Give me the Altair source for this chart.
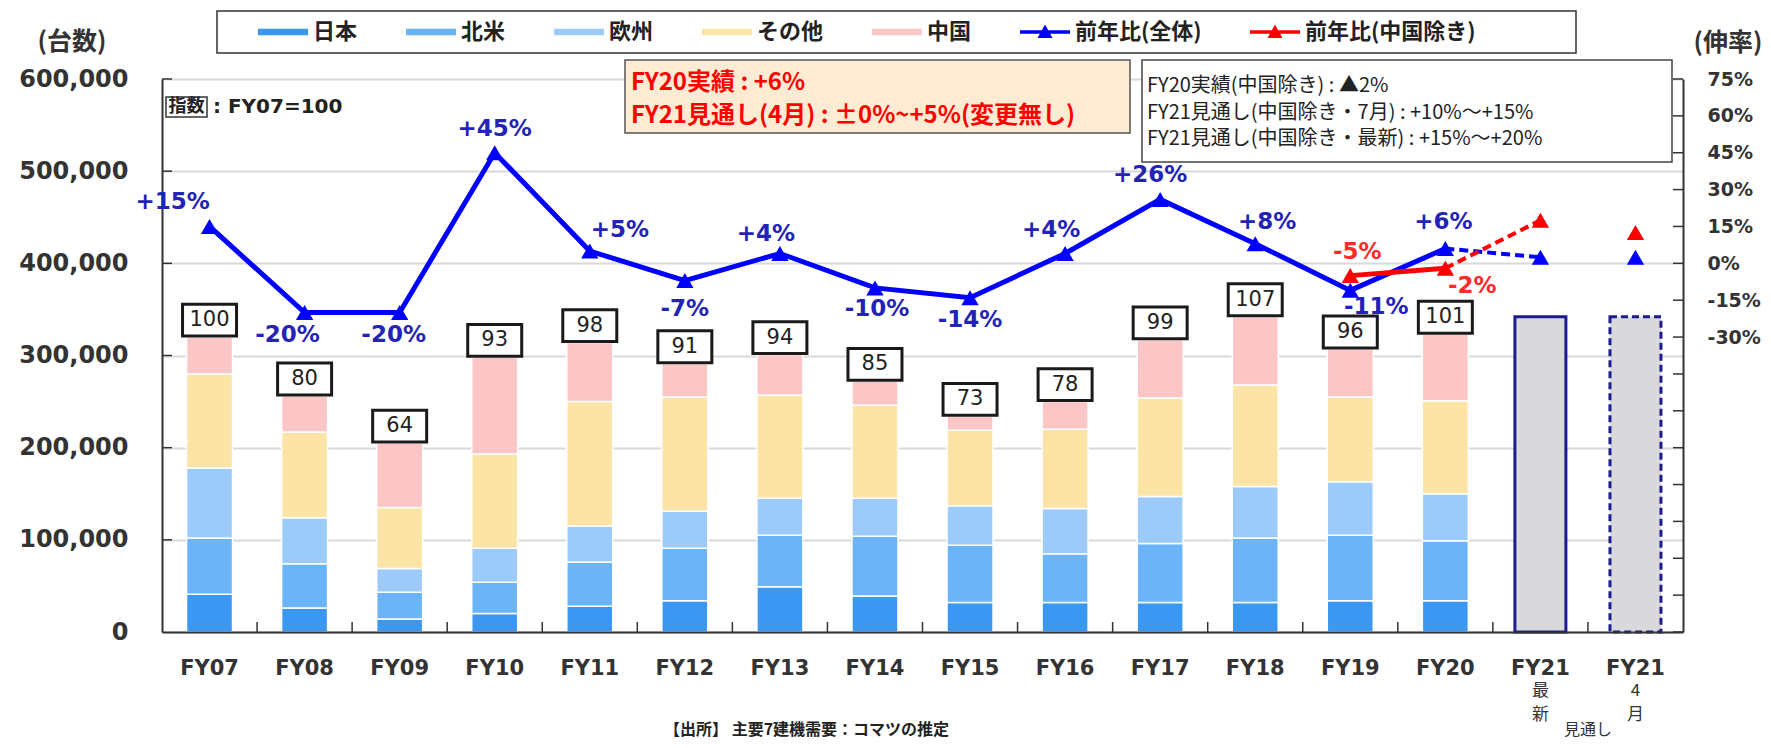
import altair as alt
import pandas as pd

# ---------------- data ----------------
years = ["FY07", "FY08", "FY09", "FY10", "FY11", "FY12", "FY13", "FY14", "FY15",
         "FY16", "FY17", "FY18", "FY19", "FY20", "FY21最新", "FY21 4月"]
actual_years = years[:14]
forecast_years = years[14:]

regions = ["日本", "北米", "欧州", "その他", "中国"]
japan = [41000, 26000, 14000, 20000, 28000, 34000, 49000, 39000, 32000, 32000, 32000, 32000, 34000, 34000]
north_america = [61000, 48000, 29000, 34000, 48000, 57000, 56000, 65000, 62000, 53000, 64000, 70000, 71000, 65000]
europe = [76000, 50000, 26000, 37000, 39000, 40000, 40000, 41000, 43000, 49000, 51000, 56000, 58000, 51000]
others = [102000, 93000, 66000, 102000, 135000, 124000, 112000, 101000, 82000, 86000, 107000, 110000, 92000, 101000]
china = [40000, 39000, 70000, 105000, 64000, 36000, 44000, 26000, 15000, 30000, 63000, 74000, 52000, 72000]
index_fy07 = [100, 80, 64, 93, 98, 91, 94, 85, 73, 78, 99, 107, 96, 101]
forecast_units = [342000, 342000]

yoy_total = [15, -20, -20, 45, 5, -7, 4, -10, -14, 4, 26, 8, -11, 6]
yoy_total_forecast = [2.5, 2.5]
exchina_years = ["FY19", "FY20"]
yoy_ex_china = [-5, -2]
yoy_ex_china_forecast = [17.5, 12.5]

series_names = ["日本", "北米", "欧州", "その他", "中国", "前年比(全体)", "前年比(中国除き)"]
left_ticks = [100000, 200000, 300000, 400000, 500000, 600000]
right_ticks = list(range(-150, 76, 15))
right_labels = [-30, -15, 0, 15, 30, 45, 60, 75]

# ---------------- styles / layout ----------------
W, H = 1521, 553
region_colors = ["#3A97F2", "#6CB4F8", "#9DCBF9", "#FCE4A6", "#FCC6C7"]
BLUE = "#0000FF"
RED = "#FF0000"
BLUE_TXT = "#2323B8"
RED_TXT = "#FF2A2A"
NUM_FONT = "DejaVu Sans"
JP_FONT = "Noto Sans CJK JP"

label_offsets = {
    ("total", "FY07"): (-37, -24), ("total", "FY08"): (-17, 23), ("total", "FY09"): (-6, 23),
    ("total", "FY10"): (0, -24), ("total", "FY11"): (30, -21), ("total", "FY12"): (0, 28),
    ("total", "FY13"): (-14, -20), ("total", "FY14"): (2, 21), ("total", "FY15"): (0, 22),
    ("total", "FY16"): (-14, -24), ("total", "FY17"): (-10, -24), ("total", "FY18"): (12, -22),
    ("total", "FY19"): (26, 17), ("total", "FY20"): (-2, -27),
    ("exchina", "FY19"): (7, -24), ("exchina", "FY20"): (27, 18),
}

swatch = "M-1,-0.13L1,-0.13L1,0.13L-1,0.13Z"
line_tri = "M-1,-0.07L1,-0.07L1,0.07L-1,0.07Z M-0.3,0.24L0,-0.3L0.3,0.24Z"
box_shape = "M-1,-0.59L1,-0.59L1,0.59L-1,0.59Z"

# ---------------- frames ----------------
rows = []
for i, yr in enumerate(actual_years):
    for k, (name, vals) in enumerate(zip(regions, [japan, north_america, europe, others, china])):
        rows.append({"year": yr, "region": name, "units": vals[i], "order": k})
bar_df = pd.DataFrame(rows)

tot_df = pd.DataFrame({
    "year": actual_years,
    "total": [sum(v) for v in zip(japan, north_america, europe, others, china)],
    "idx": [str(v) for v in index_fy07],
})
fc_df = pd.DataFrame({"year": forecast_years, "units": forecast_units})

total_line = pd.DataFrame({"year": actual_years, "pct": yoy_total})
total_fc_line = pd.DataFrame({"year": [actual_years[-1], forecast_years[0]],
                              "pct": [yoy_total[-1], yoy_total_forecast[0]]})
total_pts = pd.DataFrame({"year": actual_years + forecast_years, "pct": yoy_total + yoy_total_forecast})
ex_line = pd.DataFrame({"year": exchina_years, "pct": yoy_ex_china})
ex_fc_line = pd.DataFrame({"year": [exchina_years[-1], forecast_years[0]],
                           "pct": [yoy_ex_china[-1], yoy_ex_china_forecast[0]]})
ex_pts = pd.DataFrame({"year": exchina_years + forecast_years, "pct": yoy_ex_china + yoy_ex_china_forecast})

lab_rows = [{"series": "total", "year": y, "pct": v, "label": f"{v:+d}%"} for y, v in zip(actual_years, yoy_total)]
lab_rows += [{"series": "exchina", "year": y, "pct": v, "label": f"{v:+d}%"} for y, v in zip(exchina_years, yoy_ex_china)]
lab_df = pd.DataFrame(lab_rows)

legend_df = pd.DataFrame({"series": series_names, "year": [years[0]] * 7, "pct": [None] * 7})

# ---------------- scales ----------------
x_scale = alt.Scale(domain=years, paddingInner=0, paddingOuter=0)
y_left = alt.Scale(domain=[0, 600000], nice=False, zero=False)
y_right = alt.Scale(domain=[-150, 75], nice=False, zero=False)

x_axis = alt.Axis(labelExpr="slice(datum.label, 0, 4)", labelFont=NUM_FONT, labelFontWeight="bold",
                  labelFontSize=21, labelColor="#333", labelPadding=36, labelBaseline="middle",
                  labelAngle=0, ticks=False, tickSize=0, domainColor="#333", domainWidth=2,
                  grid=False, zindex=1, title=None)
left_axis = alt.Axis(values=[0] + left_ticks, format=",.0f", labelFont=NUM_FONT, labelFontWeight="bold",
                     labelFontSize=24, labelColor="#333", labelPadding=34, ticks=False, tickSize=0,
                     domainColor="#333", domainWidth=2, grid=True, gridColor="#D9D9D9", gridWidth=2,
                     title=None)
right_axis = alt.Axis(orient="right", values=right_labels, labelExpr="datum.value + '%'",
                      labelFont=NUM_FONT, labelFontWeight="bold", labelFontSize=19, labelColor="#333",
                      labelPadding=24, ticks=False, tickSize=0, domainColor="#333", domainWidth=2,
                      grid=False, title=None)

X = lambda: alt.X("year:N", scale=x_scale, title=None)

# ---------------- left (units) layers ----------------
bars = alt.Chart(bar_df).mark_bar(size=46, stroke="white", strokeWidth=1.5).encode(
    x=alt.X("year:N", scale=x_scale, axis=x_axis, title=None),
    y=alt.Y("units:Q", stack="zero", scale=y_left, axis=left_axis, title=None),
    fill=alt.Fill("region:N", scale=alt.Scale(domain=regions, range=region_colors), legend=None),
    order=alt.Order("order:Q"),
)
fc_solid = alt.Chart(fc_df.iloc[[0]]).mark_bar(size=51, fill="#D9D9DC", stroke="#1C1C8C",
                                               strokeWidth=3).encode(
    x=X(), y=alt.Y("units:Q", scale=y_left, title=None))
fc_dash = alt.Chart(fc_df.iloc[[1]]).mark_bar(size=51, fill="#D9D9DC", stroke="#1C1C8C",
                                              strokeWidth=3, strokeDash=[7, 4]).encode(
    x=X(), y=alt.Y("units:Q", scale=y_left, title=None))

idx_box = alt.Chart(tot_df).mark_point(shape=box_shape, size=54 * 54, filled=True, fill="white",
                                       stroke="#1A1A1A", strokeWidth=3, opacity=1,
                                       yOffset=-17).encode(
    x=X(), y=alt.Y("total:Q", scale=y_left, title=None))
idx_text = alt.Chart(tot_df).mark_text(font=NUM_FONT, fontSize=21, color="#222", yOffset=-17,
                                       baseline="middle").encode(
    x=X(), y=alt.Y("total:Q", scale=y_left, title=None), text="idx:N")

left_tick_rules = alt.Chart(pd.DataFrame({"units": left_ticks})).mark_rule(
    color="#333", strokeWidth=1.5).encode(
    x=alt.value(0), x2=alt.value(10), y=alt.Y("units:Q", scale=y_left, title=None))
x_tick_rules = alt.Chart(pd.DataFrame({"year": years[1:]})).mark_rule(
    color="#333", strokeWidth=1.5).encode(
    x=alt.X("year:N", bandPosition=0, scale=x_scale, title=None),
    y=alt.value(H - 10), y2=alt.value(H))

one = pd.DataFrame({"k": [0]})


def rect(x1, x2, y1, y2, **kw):
    return alt.Chart(one).mark_rect(**kw).encode(
        x=alt.value(x1), x2=alt.value(x2), y=alt.value(y1), y2=alt.value(y2))


def txt(s, x, y, **kw):
    return alt.Chart(one).mark_text(baseline="middle", **kw).encode(
        x=alt.value(x), y=alt.value(y), text=alt.value(s))


annotations = [
    rect(55, 1414, -68, -26, fill="white", stroke="#333", strokeWidth=1.5),
    rect(463, 968, -19, 54, fill="#FDEBD3", stroke="#555", strokeWidth=1.5),
    rect(980, 1510, -19, 83, fill="white", stroke="#444", strokeWidth=1.5),
    rect(4, 45, 18, 38, fill="white", stroke="#333", strokeWidth=1.5),
    txt("指数", 24.5, 28, font=JP_FONT, fontSize=18, fontWeight="bold", color="#222", align="center"),
    txt(": FY07=100", 51, 28, font=NUM_FONT, fontSize=20, fontWeight="bold", color="#222", align="left"),
    txt("FY20実績 : +6%", 469, 4, font=JP_FONT, fontSize=24, fontWeight="bold", color=RED, align="left"),
    txt("FY21見通し(4月) : ±0%~+5%(変更無し)", 469, 37, font=JP_FONT, fontSize=24, fontWeight="bold",
        color=RED, align="left"),
    txt("FY20実績(中国除き) : ▲2%", 985, 7, font=JP_FONT, fontSize=20, color="#222", align="left"),
    txt("FY21見通し(中国除き・7月) : +10%～+15%", 985, 34, font=JP_FONT, fontSize=20, color="#222",
        align="left"),
    txt("FY21見通し(中国除き・最新) : +15%～+20%", 985, 60, font=JP_FONT, fontSize=20, color="#222",
        align="left"),
    txt("(台数)", -90, -37, font=JP_FONT, fontSize=25, fontWeight="bold", color="#333", align="center"),
    txt("(伸率)", 1566, -36, font=JP_FONT, fontSize=25, fontWeight="bold", color="#333", align="center"),
    txt("【出所】 主要7建機需要：コマツの推定", 502, 651, font=JP_FONT, fontSize=16, fontWeight="bold",
        color="#222", align="left"),
]

sub1 = pd.DataFrame({"year": forecast_years, "t": ["最", "4"]})
sub2 = pd.DataFrame({"year": forecast_years, "t": ["新", "月"]})
sub_a = alt.Chart(sub1).mark_text(font=JP_FONT, fontSize=17, color="#333", baseline="middle").encode(
    x=X(), y=alt.value(612), text="t:N")
sub_b = alt.Chart(sub2).mark_text(font=JP_FONT, fontSize=17, color="#333", baseline="middle").encode(
    x=X(), y=alt.value(636), text="t:N")
sub_c = alt.Chart(pd.DataFrame({"year": [forecast_years[1]], "t": ["見通し"]})).mark_text(
    font=JP_FONT, fontSize=16, color="#333", baseline="middle").encode(
    x=alt.X("year:N", bandPosition=0, scale=x_scale, title=None), y=alt.value(651), text="t:N")

left = alt.layer(bars, fc_solid, fc_dash, idx_box, idx_text, left_tick_rules, x_tick_rules,
                 *annotations, sub_a, sub_b, sub_c)

# ---------------- right (growth %) layers ----------------
YR = lambda: alt.Y("pct:Q", scale=y_right, title=None)
line_total = alt.Chart(total_line).mark_line(color=BLUE, strokeWidth=5).encode(
    x=X(), y=alt.Y("pct:Q", scale=y_right, axis=right_axis, title=None))
line_total_fc = alt.Chart(total_fc_line).mark_line(color=BLUE, strokeWidth=4, strokeDash=[9, 5]).encode(
    x=X(), y=YR())
pts_total = alt.Chart(total_pts).mark_point(shape="triangle-up", filled=True, size=300, color=BLUE,
                                            opacity=1).encode(x=X(), y=YR())
line_ex = alt.Chart(ex_line).mark_line(color=RED, strokeWidth=5).encode(x=X(), y=YR())
line_ex_fc = alt.Chart(ex_fc_line).mark_line(color=RED, strokeWidth=4, strokeDash=[9, 5]).encode(
    x=X(), y=YR())
pts_ex = alt.Chart(ex_pts).mark_point(shape="triangle-up", filled=True, size=300, color=RED,
                                      opacity=1).encode(x=X(), y=YR())
right_tick_rules = alt.Chart(pd.DataFrame({"pct": right_ticks})).mark_rule(
    color="#333", strokeWidth=1.5).encode(x=alt.value(W - 10), x2=alt.value(W), y=YR())

legend_layer = alt.Chart(legend_df).mark_point(filled=True, opacity=1).encode(
    x=X(), y=YR(),
    color=alt.Color("series:N", scale=alt.Scale(domain=series_names, range=region_colors + [BLUE, RED]),
                    legend=alt.Legend(title=None)),
    shape=alt.Shape("series:N", scale=alt.Scale(domain=series_names, range=[swatch] * 5 + [line_tri] * 2),
                    legend=alt.Legend(title=None)),
)

label_layers = []
for (ser, yr), (dx, dy) in label_offsets.items():
    sub = lab_df[(lab_df["series"] == ser) & (lab_df["year"] == yr)]
    label_layers.append(alt.Chart(sub).mark_text(
        dx=dx, dy=dy, font=NUM_FONT, fontSize=23, fontWeight="bold", baseline="middle",
        color=BLUE_TXT if ser == "total" else RED_TXT).encode(x=X(), y=YR(), text="label:N"))

right = alt.layer(line_total, line_total_fc, line_ex, line_ex_fc, pts_total, pts_ex,
                  right_tick_rules, legend_layer, *label_layers)

chart = alt.layer(left, right).resolve_scale(y="independent").properties(
    width=W, height=H,
    padding={"left": 154, "top": 71, "right": 80, "bottom": 108},
    autosize=alt.AutoSizeParams(type="none"),
).configure_view(stroke=None).configure_legend(
    orient="none", legendX=96, legendY=-72, direction="horizontal", columns=7,
    columnPadding=48, symbolSize=2500, symbolStrokeWidth=0, labelFont=JP_FONT, labelFontSize=22,
    labelFontWeight="bold", labelColor="#222", labelOffset=5, labelLimit=400, padding=0,
)

chart.save("out.html", embed_options={"renderer": "svg", "actions": False})
